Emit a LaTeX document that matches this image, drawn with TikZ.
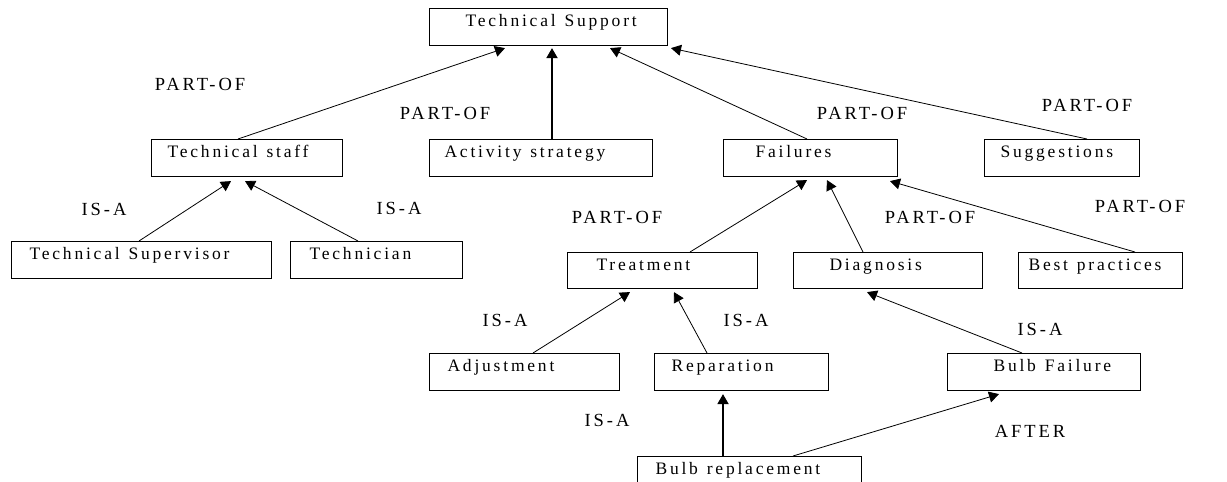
\documentclass[tikz,border=0pt]{standalone}
\usepackage{fontspec}
\setmainfont{Liberation Serif}[LetterSpace=16]
\usetikzlibrary{arrows.meta,calc}
\newcommand\wsp{\ \hspace{3pt}}
\tikzset{
  box/.style={draw, line width=1.1pt, anchor=north west, inner xsep=0pt, inner ysep=0pt,
    text height=17.5pt, text depth=19.5pt, align=left, font=\fontsize{17.5}{19}\selectfont},
  rel/.style={font=\fontsize{18.5}{20}\selectfont, inner sep=0pt},
  arr/.style={line width=0.8pt, -{Triangle[length=10pt,width=11pt]}},
  thickarr/.style={line width=1.8pt, -{Triangle[length=10pt,width=11pt]}}
}
\begin{document}
\begin{tikzpicture}[x=1pt,y=-1pt]
\useasboundingbox (0,0) rectangle (1227,482);
\clip (0,0) rectangle (1227,482);
% boxes
\node[box, text width=238pt] (tsup) at (429,8) {\hspace*{36pt}Technical\wsp Support};
\node[box, text width=191pt] (tstaff) at (151,139) {\hspace*{16pt}Technical\wsp staff};
\node[box, text width=223pt] (act) at (429,139) {\hspace*{15pt}Activity\wsp strategy};
\node[box, text width=174pt] (fail) at (723,139) {\hspace*{32pt}Failures};
\node[box, text width=155pt] (sugg) at (984,139) {\hspace*{16pt}Suggestions};
\node[box, text width=260pt] (tsv) at (11,241) {\hspace*{18pt}Technical\wsp Supervisor};
\node[box, text width=172pt] (tech) at (290,241) {\hspace*{19pt}Technician};
\node[box, text width=190pt, text depth=18.5pt] (treat) at (567,252) {\hspace*{29pt}Treatment};
\node[box, text width=189pt, text depth=18.5pt] (diag) at (793,252) {\hspace*{36pt}Diagnosis};
\node[box, text width=164pt, text depth=18.5pt] (best) at (1018,252) {\hspace*{10pt}Best\wsp practices};
\node[box, text width=190pt] (adj) at (429,353) {\hspace*{18pt}Adjustment};
\node[box, text width=174pt] (rep) at (654,353) {\hspace*{17pt}Reparation};
\node[box, text width=193pt] (bulbf) at (947,353) {\hspace*{46pt}Bulb\wsp Failure};
\node[box, text width=224pt] (bulbr) at (637,456) {\hspace*{18pt}Bulb\wsp replacement};
% connectors (x offsets from node west edge, tips just below the parent box)
\draw[arr] ($(tstaff.north west)+(87,0)$) -- ($(tsup.south west)+(76,2)$);
\draw[thickarr] ($(act.north west)+(123,0)$) -- ($(tsup.south west)+(123,2)$);
\draw[arr] ($(fail.north west)+(84,0)$) -- ($(tsup.south west)+(181,2)$);
\draw[arr] ($(sugg.north west)+(103,0)$) -- ($(tsup.south west)+(242,2)$);
\draw[arr] ($(tsv.north west)+(128,0)$) -- ($(tstaff.south west)+(80,4)$);
\draw[arr] ($(tech.north west)+(68,0)$) -- ($(tstaff.south west)+(94,4)$);
\draw[arr] ($(treat.north west)+(123,0)$) -- ($(fail.south west)+(84,3)$);
\draw[arr] ($(diag.north west)+(70,0)$) -- ($(fail.south west)+(104,3)$);
\draw[arr] ($(best.north west)+(117,0)$) -- ($(fail.south west)+(167,4)$);
\draw[arr] ($(adj.north west)+(104,0)$) -- ($(treat.south west)+(63,3)$);
\draw[arr] ($(rep.north west)+(53,0)$) -- ($(treat.south west)+(107,3)$);
\draw[arr] ($(bulbf.north west)+(75,0)$) -- ($(diag.south west)+(74,3)$);
\draw[thickarr] ($(bulbr.north west)+(86,0)$) -- ($(rep.south west)+(69,3)$);
\draw[arr] ($(bulbr.north west)+(156,0)$) -- ($(bulbf.south west)+(52,3)$);
% relation labels
\node[rel] (l1) at (200,84) {PART-OF};
\node[rel] (l2) at (445,113) {PART-OF};
\node[rel] (l3) at (862,113) {PART-OF};
\node[rel] (l4) at (1087,105) {PART-OF};
\node[rel] (l5) at (104,209) {IS-A};
\node[rel] (l6) at (399,208) {IS-A};
\node[rel] (l7) at (617,217) {PART-OF};
\node[rel] (l8) at (930,217) {PART-OF};
\node[rel] (l9) at (1140,206) {PART-OF};
\node[rel] (l10) at (505,320) {IS-A};
\node[rel] (l11) at (746,320) {IS-A};
\node[rel] (l12) at (1040,329) {IS-A};
\node[rel] (l13) at (607,420) {IS-A};
\node[rel] (l14) at (1030,431) {AFTER};
\end{tikzpicture}
\end{document}
